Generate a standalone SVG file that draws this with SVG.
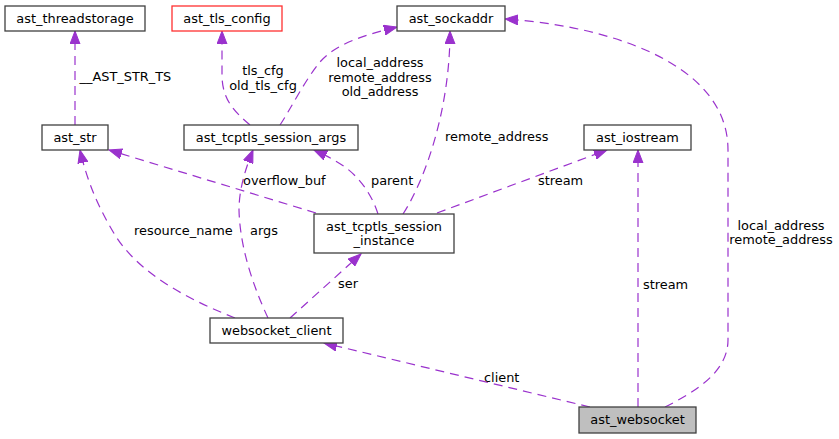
<svg xmlns="http://www.w3.org/2000/svg" width="839" height="439" viewBox="0 0 839 439">
<style>
text{font-family:"DejaVu Sans","Liberation Sans",sans-serif;font-size:12.9px;fill:#000}
.n rect{fill:#fff;stroke:#404040;stroke-width:1.3}
.n text{text-anchor:middle}
.e path{fill:none;stroke:#9a32cd;stroke-width:1.2;stroke-dasharray:9,6;marker-end:url(#ah)}
.m{text-anchor:middle}
</style>
<defs>
<marker id="ah" markerUnits="userSpaceOnUse" markerWidth="14" markerHeight="11" viewBox="0 0 14 11" refX="13" refY="5.5" orient="auto">
<path d="M0,0.5 L13,5.5 L0,10.5 z" fill="#9a32cd" stroke="#9a32cd" stroke-width="1"/>
</marker>
</defs>
<g id="connectors" class="e">
<path d="M75,125 L75,31"/>
<path d="M250,125 C235,112 222,100 222,75 L222,31"/>
<path d="M280,125 C290,110 305,80 320,62 C335,45 360,36 397,27"/>
<path d="M403,214 C425,180 450,110 450,31"/>
<path d="M665,407 C695,392 728,372 728,340 L728,150 C728,60 600,25 505,19"/>
<path d="M316,213 L109,150"/>
<path d="M378,214 C372,195 360,178 345,167 C335,160 325,155 314,150"/>
<path d="M437,213 L607,150"/>
<path d="M638,407 L638,150"/>
<path d="M235,318 C190,300 140,275 115,235 C100,210 88,185 80,150"/>
<path d="M268,318 C255,290 240,250 239,210 C239,190 245,170 253,150"/>
<path d="M290,318 L361,254"/>
<path d="M590,407 L324,343"/>
</g>
<g id="labels">
<text x="79.5" y="81">__AST_STR_TS</text>
<text class="m" x="263" y="74.5">tls_cfg</text>
<text class="m" x="263" y="89.5">old_tls_cfg</text>
<text class="m" x="380" y="67">local_address</text>
<text class="m" x="380" y="81.5">remote_address</text>
<text class="m" x="380" y="96">old_address</text>
<text x="445" y="141">remote_address</text>
<text x="243" y="185">overflow_buf</text>
<text x="371" y="185">parent</text>
<text x="538" y="185">stream</text>
<text x="134" y="235">resource_name</text>
<text x="250" y="235">args</text>
<text x="338" y="288">ser</text>
<text x="643" y="289">stream</text>
<text class="m" x="781" y="229.5">local_address</text>
<text class="m" x="781" y="244">remote_address</text>
<text x="484" y="382">client</text>
</g>
<g id="ast_threadstorage" class="n"><rect x="5" y="6" width="140" height="25"/><text x="75" y="22.5">ast_threadstorage</text></g>
<g id="ast_tls_config" class="n"><rect x="172" y="6" width="110" height="25" style="stroke:#ff3030"/><text x="227" y="22.5">ast_tls_config</text></g>
<g id="ast_sockaddr" class="n"><rect x="397" y="6" width="108" height="25"/><text x="451" y="22.5">ast_sockaddr</text></g>
<g id="ast_str" class="n"><rect x="42" y="125" width="66" height="25"/><text x="75" y="141.5">ast_str</text></g>
<g id="ast_tcptls_session_args" class="n"><rect x="184" y="125" width="174" height="25"/><text x="271" y="141.5">ast_tcptls_session_args</text></g>
<g id="ast_iostream" class="n"><rect x="584" y="125" width="107" height="25"/><text x="637.5" y="141.5">ast_iostream</text></g>
<g id="ast_tcptls_session_instance" class="n"><rect x="314" y="214" width="140" height="39"/><text x="384" y="230.5">ast_tcptls_session</text><text x="384" y="245">_instance</text></g>
<g id="websocket_client" class="n"><rect x="210" y="318" width="133" height="25"/><text x="276.5" y="334.5">websocket_client</text></g>
<g id="ast_websocket" class="n"><rect x="579" y="407" width="117" height="26" style="fill:#bfbfbf"/><text x="637.5" y="424">ast_websocket</text></g>
</svg>
